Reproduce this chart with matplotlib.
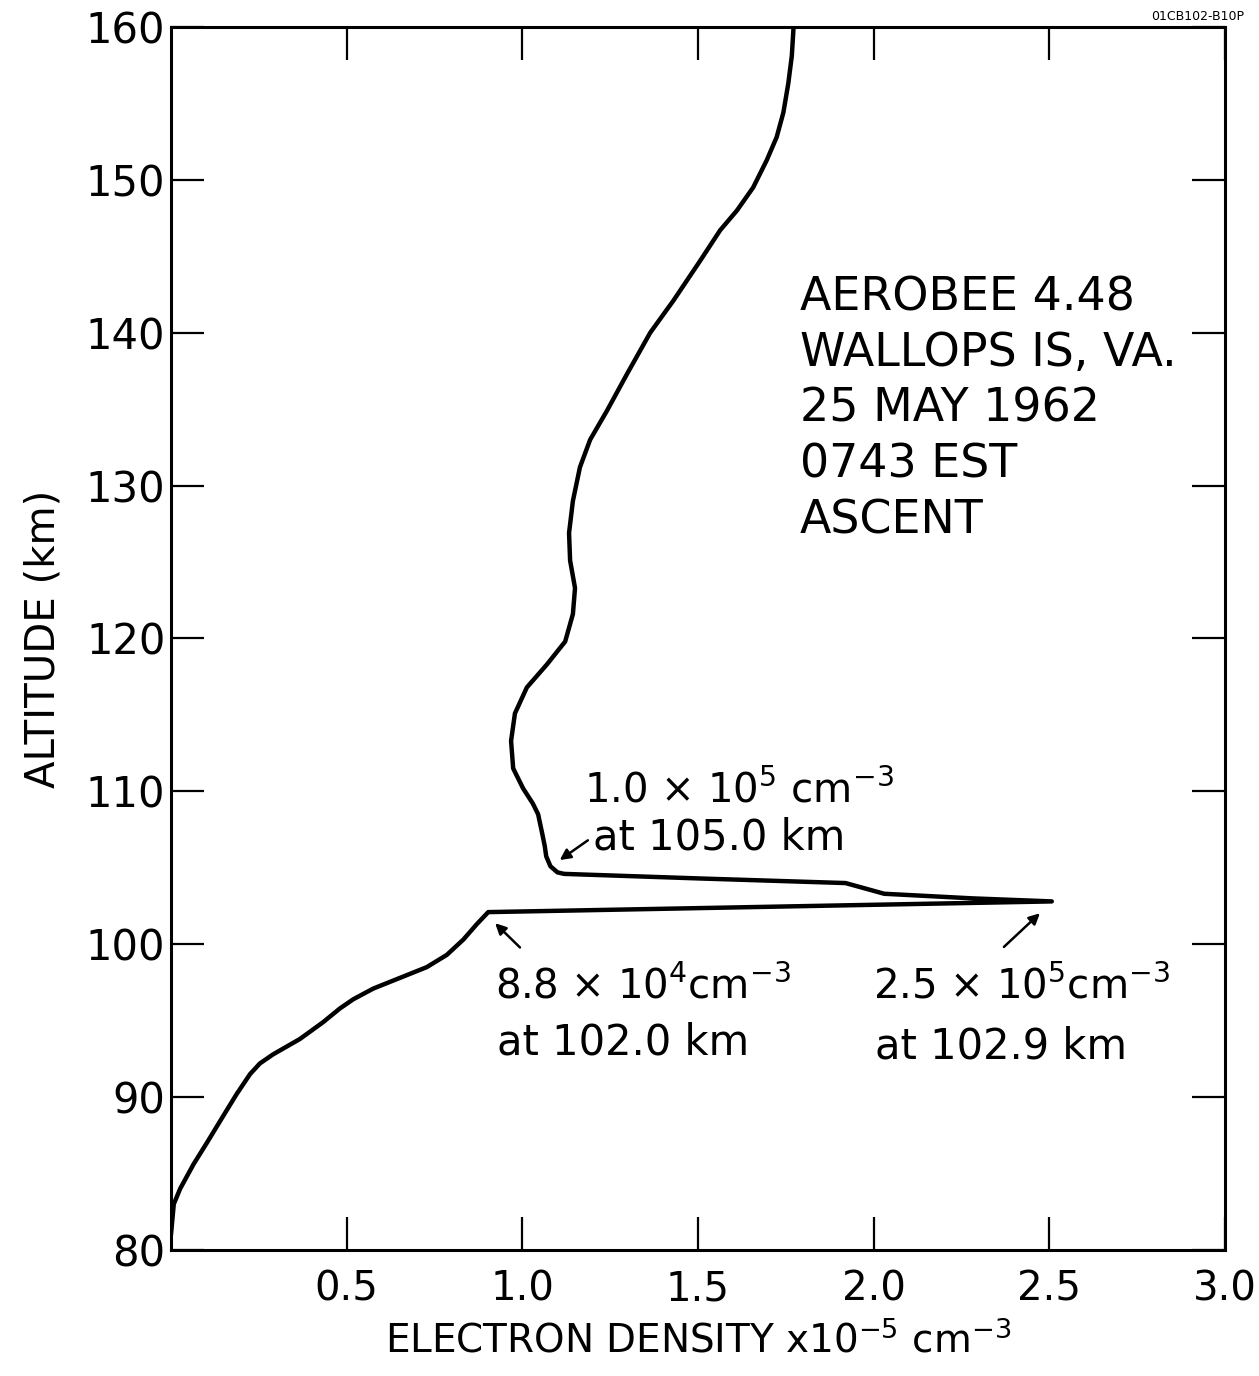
import matplotlib
matplotlib.use("Agg")
import matplotlib.pyplot as plt

# ---- data ----
# lower branch (80 -> 102 km)
density_low = [0.0, 0.008, 0.026, 0.064, 0.102, 0.139, 0.187, 0.225, 0.253, 0.291,
               0.367, 0.433, 0.481, 0.519, 0.576, 0.652, 0.728, 0.785, 0.832,
               0.870, 0.903]
altitude_low = [81.0, 83.0, 84.0, 85.6, 87.0, 88.4, 90.2, 91.5, 92.2, 92.8,
                93.8, 94.9, 95.8, 96.4, 97.1, 97.8, 98.5, 99.3, 100.3,
                101.3, 102.1]
# sporadic-E spike and return
density_spike = [2.507, 2.28, 2.03, 1.92, 1.506, 1.119, 1.10, 1.08, 1.068, 1.064]
altitude_spike = [102.8, 103.0, 103.3, 104.0, 104.3, 104.6, 104.7, 105.1, 105.75, 106.4]
# upper branch (107 -> 160 km)
density_up = [1.057, 1.045, 1.03, 1.002, 0.974, 0.968, 0.979, 1.013, 1.07, 1.122,
              1.144, 1.15, 1.136, 1.133, 1.144, 1.164, 1.193, 1.241, 1.298, 1.364,
              1.43, 1.506, 1.563, 1.611, 1.657, 1.696, 1.724, 1.743, 1.757, 1.767,
              1.771, 1.772]
altitude_up = [107.2, 108.5, 109.2, 110.2, 111.5, 113.3, 115.1, 116.8, 118.3, 119.8,
               121.6, 123.3, 125.1, 126.9, 129.0, 131.2, 133.0, 134.9, 137.3, 140.0,
               142.1, 144.7, 146.7, 148.0, 149.5, 151.3, 152.8, 154.4, 156.3, 158.1,
               159.6, 160.0]

xticks = [0.5, 1.0, 1.5, 2.0, 2.5, 3.0]
xticklabels = ["0.5", "1.0", "1.5", "2.0", "2.5", "3.0"]
yticks = [80, 90, 100, 110, 120, 130, 140, 150, 160]
yticklabels = ["80", "90", "100", "110", "120", "130", "140", "150", "160"]

info_lines = ["AEROBEE 4.48", "WALLOPS IS, VA.", "25 MAY 1962", "0743 EST", "ASCENT"]

density = density_low + density_spike + density_up
altitude = altitude_low + altitude_spike + altitude_up

plt.rcParams['font.family'] = ['DejaVu Sans']
fig = plt.figure(figsize=(12.59, 13.76), dpi=100)
ax = fig.add_axes([0.1358, 0.0916, 0.8372, 0.8888])

ax.plot(density, altitude, color='black', lw=3.2,
        solid_joinstyle='round', solid_capstyle='round')
ax.set_xlim(0, 3.0)
ax.set_ylim(80, 160)

for s in ax.spines.values():
    s.set_linewidth(2.2)

ax.set_xticks(xticks)
ax.set_xticklabels(xticklabels, fontsize=29)
ax.set_yticks(yticks)
ax.set_yticklabels(yticklabels, fontsize=30)
ax.tick_params(axis='both', direction='in', length=24, width=1.6,
               top=True, right=True)
ax.tick_params(axis='x', pad=14)
ax.tick_params(axis='y', pad=4)

ax.set_xlabel(r"ELECTRON DENSITY x10$^{-5}$ cm$^{-3}$", fontsize=28, labelpad=8)
ax.set_ylabel("ALTITUDE (km)", fontsize=29, labelpad=16)

# info block
for i, line in enumerate(info_lines):
    ax.text(1.79, 142.3 - i * 3.65, line, fontsize=33, va='center', ha='left')

# annotations
ax.text(1.175, 110.0, r"1.0 $\times$ 10$^5$ cm$^{-3}$", fontsize=29, va='center', ha='left')
ax.text(1.20, 107.0, "at 105.0 km", fontsize=30, va='center', ha='left')
ax.text(0.922, 97.2, r"8.8 $\times$ 10$^4$cm$^{-3}$", fontsize=29, va='center', ha='left')
ax.text(0.928, 93.6, "at 102.0 km", fontsize=30, va='center', ha='left')
ax.text(1.998, 97.2, r"2.5 $\times$ 10$^5$cm$^{-3}$", fontsize=29, va='center', ha='left')
ax.text(2.004, 93.3, "at 102.9 km", fontsize=30, va='center', ha='left')

arrow = dict(arrowstyle='-|>', color='black', lw=1.8, mutation_scale=16)
ax.annotate("", xy=(1.10, 105.4), xytext=(1.193, 106.9), arrowprops=arrow)
ax.annotate("", xy=(0.917, 101.5), xytext=(0.999, 99.66), arrowprops=arrow)
ax.annotate("", xy=(2.479, 102.15), xytext=(2.365, 99.7), arrowprops=arrow)

fig.text(0.988, 0.993, "01CB102-B10P", fontsize=9, ha='right', va='top')

fig.savefig("out.png", dpi=100)
